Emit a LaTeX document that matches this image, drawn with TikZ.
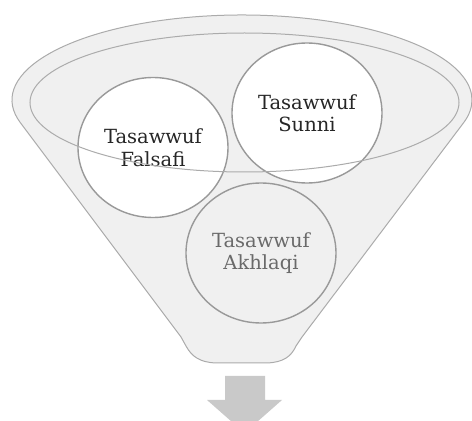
\documentclass[tikz,border=0pt]{standalone}
\usepackage{fontspec}
\setmainfont{DejaVu Serif}
\usetikzlibrary{shapes.geometric,calc}
\definecolor{funnelgray}{HTML}{F0F0F0}
\definecolor{funnelline}{HTML}{ABABAB}
\definecolor{circline}{HTML}{999999}
\definecolor{arrowgray}{HTML}{C9C9C9}
\definecolor{darktext}{HTML}{262626}
\definecolor{lighttext}{HTML}{6A6A6A}
\tikzset{
  circ/.style={ellipse, draw=circline, line width=1.4pt, minimum width=150pt, minimum height=140pt, inner sep=0pt, align=center, font=\fontsize{19.5}{22.5}\selectfont},
  funnelshape/.style={fill=funnelgray, draw=funnelline, line width=1pt},
}
\begin{document}
\begin{tikzpicture}[x=1pt,y=1pt]
\useasboundingbox (0,0) rectangle (472,421);
\clip (0,0) rectangle (472,421);
% funnel body
\coordinate (bl) at (181,84);
\coordinate (br) at (302,84);
\draw[funnelshape] (bl) -- ($(242,321)+(195.5:230 and 85)$) arc[start angle=195.5, end angle=-15.5, x radius=230, y radius=85] -- (br) -- (296,75) .. controls (291,64) and (283,59) .. (268,58) -- (215,58) .. controls (200,59) and (192,64) .. (186,75) -- cycle;
% inner ellipse fill
\fill[funnelgray] (244.5,318.5) ellipse[x radius=214.5, y radius=69.5];
% circles
\node[circ, fill=white, text=darktext] (falsafi) at (153,273.5) {Tasawwuf\\Falsafi};
\node[circ, fill=white, text=darktext] (sunni) at (307,308) {Tasawwuf\\Sunni};
\node[circ, fill=funnelgray, text=lighttext] (akhlaqi) at (261,168) {Tasawwuf\\Akhlaqi};
% inner ellipse outline on top
\draw[funnelline, line width=1pt] (244.5,318.5) ellipse[x radius=214.5, y radius=69.5];
% arrow
\fill[arrowgray] (225,45) -- (265,45) -- (265,21) -- (282,21) -- (244.5,-12) -- (207,21) -- (225,21) -- cycle;
\end{tikzpicture}
\end{document}
